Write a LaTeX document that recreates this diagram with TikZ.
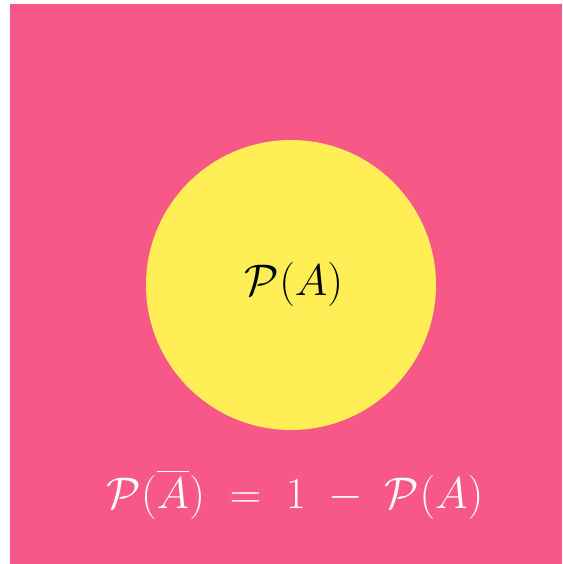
\documentclass[tikz,border=0pt]{standalone}
\usepackage{amsmath}
\definecolor{bgpink}{RGB}{247,88,136}
\definecolor{sunyellow}{RGB}{255,238,85}
\begin{document}
\begin{tikzpicture}[x=1pt,y=-1pt,
  lbl/.style={inner sep=0pt, font=\Huge, scale=1.78}]
\useasboundingbox (0,0) rectangle (562,564);
\fill[white] (0,0) rectangle (562,564);
\fill[bgpink] (10,4) rectangle (562,564);
\node[circle, fill=sunyellow, minimum size=290pt, inner sep=0pt] (circ) at (291,285) {};
\node[lbl, text=black] (pa) at (294,284) {$\mathcal{P}(A)$};
\node[lbl, text=white] (eq) at (295,494) {$\mathcal{P}(\overline{A}) \;=\; 1 \;-\; \mathcal{P}(A)$};
\end{tikzpicture}
\end{document}
